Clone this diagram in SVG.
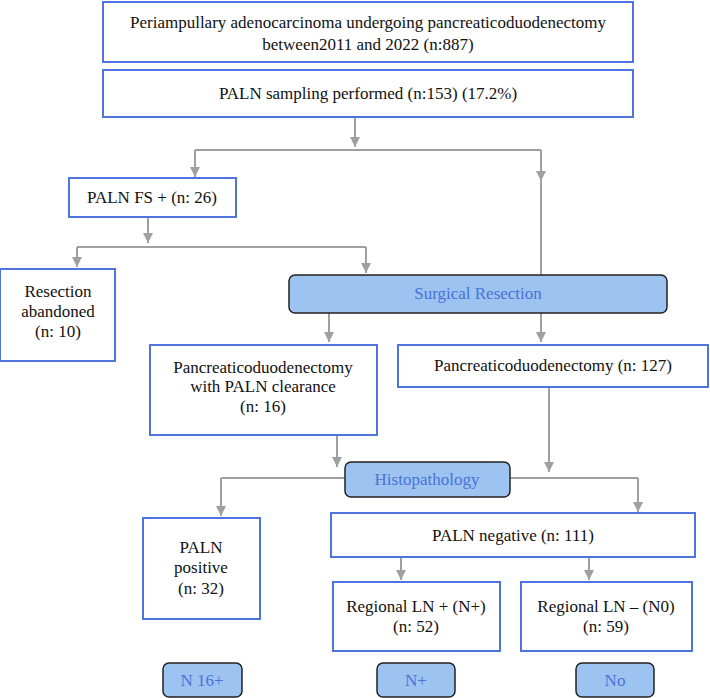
<svg xmlns="http://www.w3.org/2000/svg" width="710" height="698" viewBox="0 0 710 698">
<defs>
<marker id="ah" viewBox="0 0 10 10" refX="10" refY="5" markerWidth="10" markerHeight="10" markerUnits="userSpaceOnUse" orient="auto">
<path d="M0,0 L10,5 L0,10 z" fill="#A0A0A0"/>
</marker>
</defs>
<style>
.box{fill:#fff;stroke:#4F74E0;stroke-width:2}
.rbox{fill:#9DC3F0;stroke:#222;stroke-width:1.5}
text{font-family:'Liberation Serif','DejaVu Serif',serif;font-size:17px;text-anchor:middle}
.t{fill:#111}
.bt{fill:#4A72D8}
.c{fill:none;stroke:#A0A0A0;stroke-width:2}
.a{marker-end:url(#ah)}
</style>
<rect width="710" height="698" fill="#fff"/>
<g id="connectors">
<path class="c a" d="M355,117 V147"/>
<path class="c" d="M195,150 H541"/>
<path class="c a" d="M195,150 V177"/>
<path class="c a" d="M541,150 V181"/>
<path class="c" d="M541,176 V275"/>
<path class="c a" d="M148,217 V243"/>
<path class="c" d="M77,247 H366"/>
<path class="c a" d="M77,247 V267"/>
<path class="c a" d="M366,247 V273"/>
<path class="c a" d="M329,313 V342"/>
<path class="c a" d="M541,313 V342"/>
<path class="c a" d="M337,435 V467"/>
<path class="c a" d="M549,387 V472"/>
<path class="c" d="M221,478 H638"/>
<path class="c a" d="M221,478 V516"/>
<path class="c a" d="M638,478 V512"/>
<path class="c a" d="M401,557 V580"/>
<path class="c a" d="M589,557 V580"/>
</g>
<g id="n-start">
<rect class="box" x="103" y="2" width="530" height="60"/>
<text class="t" x="368" y="28">Periampullary adenocarcinoma undergoing pancreaticoduodenectomy</text>
<text class="t" x="368" y="50">between2011 and 2022 (n:887)</text>
</g>
<g id="n-sampling">
<rect class="box" x="103" y="70" width="530" height="47"/>
<text class="t" x="368" y="99">PALN sampling performed (n:153) (17.2%)</text>
</g>
<g id="n-fs">
<rect class="box" x="69" y="178" width="167" height="39"/>
<text class="t" x="152" y="203">PALN FS + (n: 26)</text>
</g>
<g id="n-abandoned">
<rect class="box" x="0" y="269" width="115" height="92"/>
<text class="t" x="58" y="297">Resection</text>
<text class="t" x="58" y="317">abandoned</text>
<text class="t" x="58" y="337">(n: 10)</text>
</g>
<g id="n-surgical">
<rect class="rbox" x="289" y="275" width="378" height="38" rx="6"/>
<text class="bt" x="478" y="299">Surgical Resection</text>
</g>
<g id="n-pd-palnc">
<rect class="box" x="150" y="345" width="227" height="90"/>
<text class="t" x="263" y="373">Pancreaticoduodenectomy</text>
<text class="t" x="263" y="392">with PALN clearance</text>
<text class="t" x="263" y="412">(n: 16)</text>
</g>
<g id="n-pd">
<rect class="box" x="398" y="345" width="310" height="42"/>
<text class="t" x="553" y="371">Pancreaticoduodenectomy (n: 127)</text>
</g>
<g id="n-histo">
<rect class="rbox" x="345" y="462" width="165" height="35" rx="6"/>
<text class="bt" x="427" y="485">Histopathology</text>
</g>
<g id="n-palnpos">
<rect class="box" x="143" y="518" width="117" height="101"/>
<text class="t" x="201" y="553">PALN</text>
<text class="t" x="201" y="573">positive</text>
<text class="t" x="201" y="594">(n: 32)</text>
</g>
<g id="n-palnneg">
<rect class="box" x="331" y="513" width="364" height="44"/>
<text class="t" x="513" y="541">PALN negative (n: 111)</text>
</g>
<g id="n-lnpos">
<rect class="box" x="333" y="582" width="167" height="69"/>
<text class="t" x="416" y="612">Regional LN + (N+)</text>
<text class="t" x="416" y="632">(n: 52)</text>
</g>
<g id="n-lnneg">
<rect class="box" x="521" y="582" width="171" height="69"/>
<text class="t" x="606" y="612">Regional LN – (N0)</text>
<text class="t" x="606" y="632">(n: 59)</text>
</g>
<g id="n-n16">
<rect class="rbox" x="163" y="663" width="79" height="34" rx="6"/>
<text class="bt" x="202" y="686">N 16+</text>
</g>
<g id="n-nplus">
<rect class="rbox" x="377" y="663" width="78" height="34" rx="6"/>
<text class="bt" x="416" y="686">N+</text>
</g>
<g id="n-no">
<rect class="rbox" x="576" y="663" width="78" height="34" rx="6"/>
<text class="bt" x="615" y="686">No</text>
</g>
</svg>
